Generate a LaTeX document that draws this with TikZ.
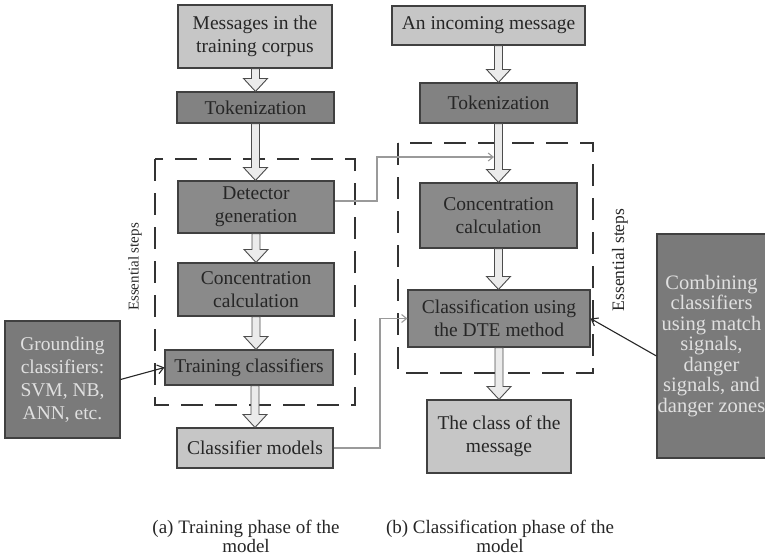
\documentclass[tikz,border=0pt]{standalone}
\usepackage{fontspec}
\setmainfont{Liberation Serif}
\usetikzlibrary{arrows.meta,calc}
\definecolor{lightbox}{HTML}{C6C6C6}
\definecolor{darkbox}{HTML}{8A8A8A}
\definecolor{tokbox}{HTML}{828282}
\definecolor{sidebox}{HTML}{7A7A7A}
\definecolor{arrowfill}{HTML}{EBEBEB}
\definecolor{connline}{HTML}{9A9A9A}
\newcommand\blkarrow[3]{%
  \filldraw[blk] let \p3=(#1.center), \p1=(#2.south), \p2=(#3.north) in
  (\x3-4pt,\y1) -- (\x3-4pt,\y2+13pt) -- (\x3-12pt,\y2+13pt) -- (\x3,\y2)
  -- (\x3+12pt,\y2+13pt) -- (\x3+4pt,\y2+13pt) -- (\x3+4pt,\y1) -- cycle;}
\begin{document}
\begin{tikzpicture}[x=1pt,y=-1pt,
  box/.style={draw=black!75, line width=1.1pt, align=center, inner sep=0pt,
    font=\fontsize{19.5}{23}\selectfont, text=black!85},
  lbox/.style={box, fill=lightbox},
  dbox/.style={box, fill=darkbox},
  tbox/.style={box, fill=tokbox},
  sbox/.style={box, fill=sidebox, text=black!12},
  dashbox/.style={draw=black!80, line width=1.3pt, dash pattern=on 22pt off 12pt},
  blk/.style={fill=arrowfill, draw=black!70, line width=0.9pt},
  conn/.style={draw=connline, line width=1.1pt, -{Straight Barb[length=5pt,width=8pt]}},
  bconn/.style={draw=black!85, line width=1.1pt, -{Straight Barb[length=6pt,width=9pt]}},
  stepsl/.style={rotate=90, text=black!85, font=\fontsize{15}{16}\selectfont},
  stepsr/.style={rotate=90, text=black!85, font=\fontsize{17.5}{19}\selectfont},
  captext/.style={align=center, text=black!85, font=\fontsize{19}{19}\selectfont}]
\useasboundingbox (0,0) rectangle (765,558);
% dashed groups
\draw[dashbox] (155,159) rectangle (355,405);
\draw[dashbox] (398,143) rectangle (593,373);
% left column
\node[lbox, minimum width=154, minimum height=63] (m1) at (255,36.5) {Messages in the\\training corpus};
\node[tbox, minimum width=157, minimum height=31] (tok1) at (255.5,107.5) {Tokenization};
\node[dbox, minimum width=156, minimum height=52] (det) at (256,207) {Detector\\generation};
\node[dbox, minimum width=156, minimum height=53] (con1) at (256,289.5) {Concentration\\calculation};
\node[dbox, minimum width=168, minimum height=35] (tr) at (249,367.5) {Training classifiers};
\node[lbox, minimum width=156, minimum height=40] (cm) at (255,448) {Classifier models};
\node[sbox, minimum width=115, minimum height=117] (gr) at (62.5,379.5) {Grounding\\classifiers:\\SVM, NB,\\ANN, etc.};
% right column
\node[lbox, minimum width=193, minimum height=39] (m2) at (488.5,25.5) {An incoming message};
\node[tbox, minimum width=157, minimum height=40] (tok2) at (498.5,103) {Tokenization};
\node[dbox, minimum width=157, minimum height=65] (con2) at (498.5,215.5) {Concentration\\calculation};
\node[dbox, minimum width=182, minimum height=57] (cls) at (499,318.5) {Classification using\\the DTE method};
\node[lbox, minimum width=144, minimum height=73] (cl) at (499,436.5) {The class of the\\message};
\node[sbox, minimum width=109, minimum height=224, font=\fontsize{20.5}{20.5}\selectfont] (comb) at (711.5,346)
  {Combining\\classifiers\\using match\\signals,\\danger\\signals, and\\danger zones};
% block arrows
\blkarrow{tok1}{m1}{tok1}
\blkarrow{tok1}{tok1}{det}
\blkarrow{det}{det}{con1}
\blkarrow{con1}{con1}{tr}
\blkarrow{cm}{tr}{cm}
\blkarrow{tok2}{m2}{tok2}
\blkarrow{tok2}{tok2}{con2}
\blkarrow{con2}{con2}{cls}
\blkarrow{cl}{cls}{cl}
% thin connectors
\coordinate (ja) at (377,157);
\coordinate (ta) at (494,157);
\draw[conn] ([yshift=6pt]det.east) -| (ja) -- (ta);
\coordinate (jb) at (380,318.5);
\draw[conn] (cm.east) -| (jb) -- (cls.west);
\draw[bconn] (gr.east) -- (tr.west);
\draw[bconn] ([yshift=-10pt]comb.west) -- (cls.east);
% labels
\node[stepsl] (sl) at (135,267) {Essential steps};
\node[stepsr] (sr) at (620,260) {Essential steps};
\node[captext] (ca) at (246,536) {(a) Training phase of the\\model};
\node[captext] (cb) at (500,536) {(b) Classification phase of the\\model};
\end{tikzpicture}
\end{document}
